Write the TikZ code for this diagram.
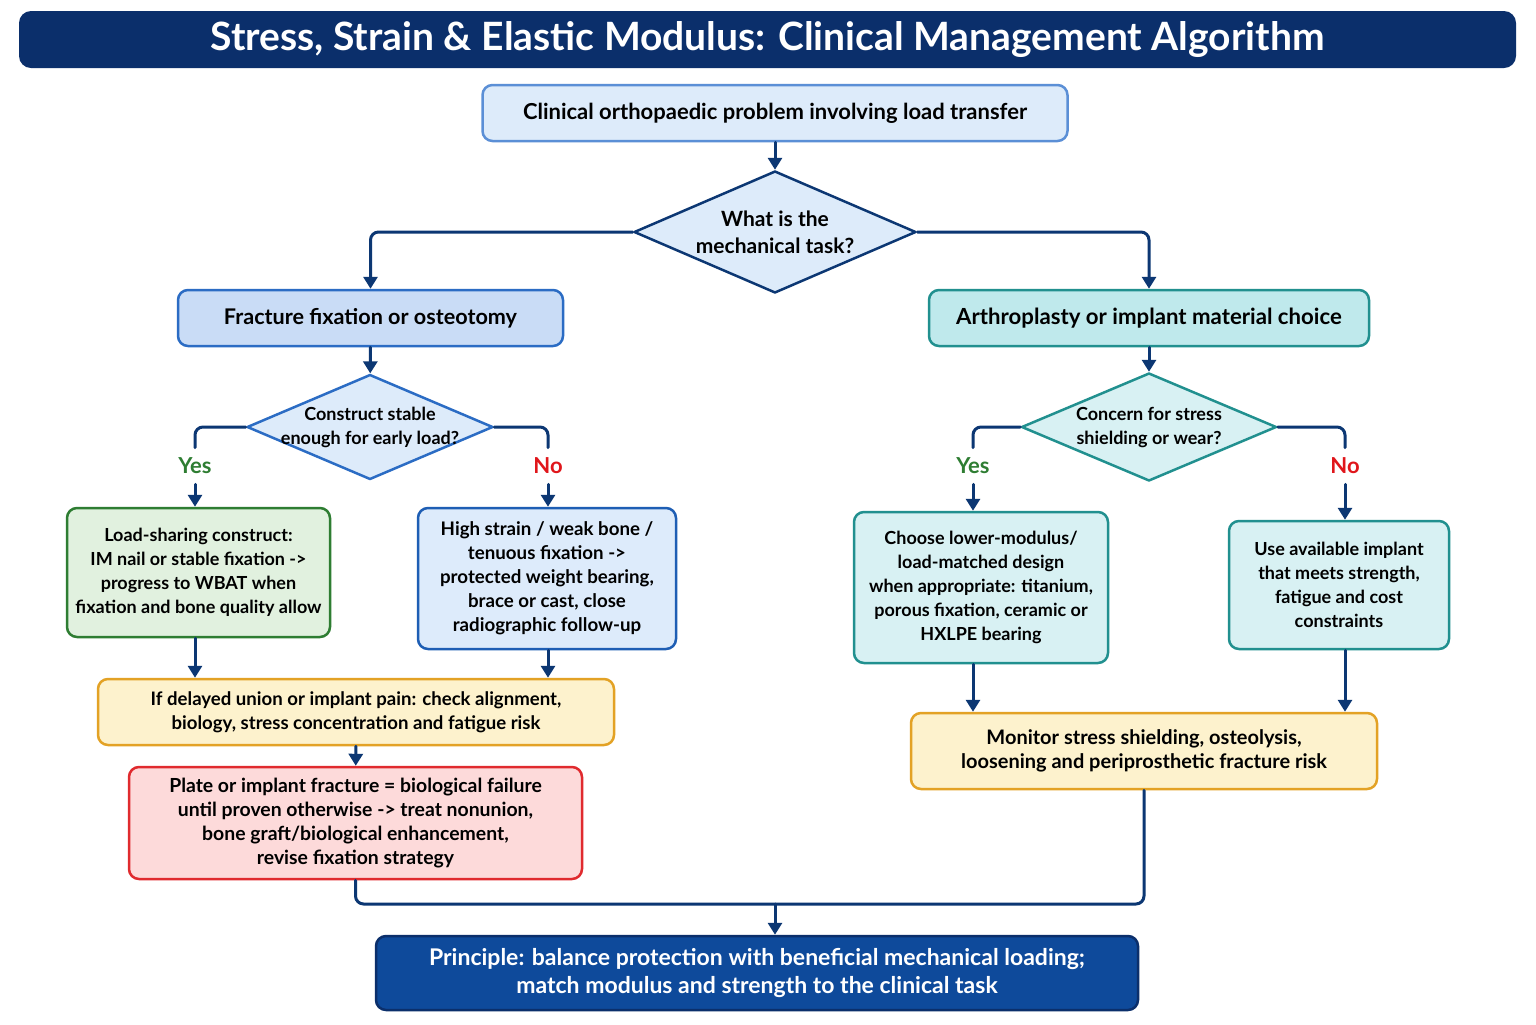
\documentclass[tikz,border=0pt]{standalone}
\usepackage{fontspec}
\setmainfont{Lato}
\usetikzlibrary{arrows.meta,shapes.geometric}
\definecolor{titlec}{HTML}{0B2F6B}
\definecolor{arrowc}{HTML}{0C3773}
\definecolor{topfill}{HTML}{DDEBFA}
\definecolor{topline}{HTML}{5B8FD6}
\definecolor{fixfill}{HTML}{C9DCF6}
\definecolor{fixline}{HTML}{2B6CC4}
\definecolor{artfill}{HTML}{BFE9EC}
\definecolor{artline}{HTML}{21908F}
\definecolor{tealfill}{HTML}{D8F1F3}
\definecolor{greenfill}{HTML}{E1F1DF}
\definecolor{greenline}{HTML}{2E7D32}
\definecolor{bluefill}{HTML}{DDEBFB}
\definecolor{blueline}{HTML}{1E5EB4}
\definecolor{yelfill}{HTML}{FDF2CD}
\definecolor{yelline}{HTML}{E3A225}
\definecolor{redfill}{HTML}{FDDADA}
\definecolor{redline}{HTML}{E02A2E}
\definecolor{prinfill}{HTML}{0E4A9B}
\definecolor{yesc}{HTML}{2E7D32}
\definecolor{noc}{HTML}{E0161B}

\begin{document}
\begin{tikzpicture}[line cap=round,line join=round,>={Triangle[length=6pt,width=7pt]},x=0.5pt,y=-0.5pt,
	box/.style={draw,rounded corners=5pt,line width=1.25pt,align=center,inner sep=2pt,font=\bfseries\fontsize{9}{12}\selectfont},
	dia/.style={draw,diamond,line width=1.25pt,align=center,inner sep=-3pt,aspect=2.33,font=\bfseries\fontsize{9}{12}\selectfont},
	conn/.style={draw=arrowc,line width=1.5pt,rounded corners=4pt},
	arr/.style={conn,->},
	yes/.style={text=yesc,font=\bfseries\fontsize{11}{12}\selectfont,inner sep=5pt},
	no/.style={yes,text=noc}]
	\useasboundingbox[fill=white] (0,0) rectangle (1536,1024);
	\node[fill=titlec,rounded corners=6pt,minimum width=748.5pt,minimum height=28.5pt,text=white,font=\bfseries\fontsize{19.5}{22}\selectfont] (title) at (767.5,39.5) {Stress, Strain \& Elastic Modulus: Clinical Management Algorithm};
	\node[box,fill=topfill,draw=topline,minimum width=292.5pt,minimum height=28pt,font=\bfseries\fontsize{11}{12}\selectfont] (prob) at (775,113) {Clinical orthopaedic problem involving load transfer};
	\node[dia,fill=topfill,draw=arrowc,minimum width=141pt,minimum height=61pt,font=\bfseries\fontsize{10.5}{13.5}\selectfont] (task) at (775,232) {What is the\\mechanical task?};
	\node[box,fill=fixfill,draw=fixline,minimum width=192.5pt,minimum height=28pt,font=\bfseries\fontsize{10.8}{12}\selectfont] (fix) at (370.5,318) {Fracture fixation or osteotomy};
	\node[box,fill=artfill,draw=artline,minimum width=220pt,minimum height=28pt,font=\bfseries\fontsize{11.1}{12}\selectfont] (arth) at (1149,318) {Arthroplasty or implant material choice};
	\node[dia,fill=topfill,draw=fixline,minimum width=123pt,minimum height=52.5pt] (stable) at (370,427) {Construct stable\\enough for early load?};
	\node[dia,fill=tealfill,draw=artline,minimum width=127.5pt,minimum height=54pt] (shield) at (1149,427) {Concern for stress\\shielding or wear?};
	\node[yes] (yesA) at (195,466) {Yes};
	\node[no] (noA) at (548,466) {No};
	\node[yes] (yesB) at (973,466) {Yes};
	\node[no] (noB) at (1345,466) {No};
	\node[box,fill=greenfill,draw=greenline,minimum width=131.5pt,minimum height=64.5pt] (share) at (198.5,572.5) {Load-sharing construct:\\IM nail or stable fixation ->\\progress to WBAT when\\fixation and bone quality allow};
	\node[box,fill=bluefill,draw=blueline,minimum width=129pt,minimum height=70.5pt,font=\bfseries\fontsize{9.35}{12}\selectfont] (protect) at (547,578.5) {High strain / weak bone /\\tenuous fixation ->\\protected weight bearing,\\brace or cast, close\\radiographic follow-up};
	\node[box,fill=tealfill,draw=artline,minimum width=127pt,minimum height=75.5pt] (lowmod) at (981,587.5) {Choose lower-modulus/\\load-matched design\\when appropriate: titanium,\\porous fixation, ceramic or\\HXLPE bearing};
	\node[box,fill=tealfill,draw=artline,minimum width=110pt,minimum height=64pt] (avail) at (1339,585) {Use available implant\\that meets strength,\\fatigue and cost\\constraints};
	\node[box,fill=yelfill,draw=yelline,minimum width=258pt,minimum height=33pt,font=\bfseries\fontsize{9.3}{12}\selectfont] (delay) at (356,712) {If delayed union or implant pain: check alignment,\\biology, stress concentration and fatigue risk};
	\node[box,fill=redfill,draw=redline,minimum width=226.5pt,minimum height=56pt,font=\bfseries\fontsize{9.7}{11.9}\selectfont] (fail) at (355.5,823) {Plate or implant fracture = biological failure\\until proven otherwise -> treat nonunion,\\bone graft/biological enhancement,\\revise fixation strategy};
	\node[box,fill=yelfill,draw=yelline,minimum width=233pt,minimum height=38pt,font=\bfseries\fontsize{10}{12}\selectfont] (monitor) at (1144,751) {Monitor stress shielding, osteolysis,\\loosening and periprosthetic fracture risk};
	\node[box,fill=prinfill,draw=titlec,text=white,minimum width=381pt,minimum height=37pt,font=\bfseries\fontsize{11.5}{14}\selectfont] (prin) at (757,973) {Principle: balance protection with beneficial mechanical loading;\\match modulus and strength to the clinical task};
	\coordinate (join) at (775,904);
	\draw[arr] (prob) -- (task);
	\draw[arr] (task.west) -| (fix.north);
	\draw[arr] (task.east) -| (arth.north);
	\draw[arr] (fix) -- (stable);
	\draw[arr] (arth) -- (shield);
	\draw[conn] (stable.west) -| (yesA.north);
	\draw[arr] (yesA.south) -- (yesA.south |- share.north);
	\draw[conn] (stable.east) -| (noA.north);
	\draw[arr] (noA.south) -- (noA.south |- protect.north);
	\draw[conn] (shield.west) -| (yesB.north);
	\draw[arr] (yesB.south) -- (yesB.south |- lowmod.north);
	\draw[conn] (shield.east) -| (noB.north);
	\draw[arr] (noB.south) -- (noB.south |- avail.north);
	\draw[arr] (yesA |- share.south) -- (yesA |- delay.north);
	\draw[arr] (noA |- protect.south) -- (noA |- delay.north);
	\draw[arr] (yesB |- lowmod.south) -- (yesB |- monitor.north);
	\draw[arr] (noB |- avail.south) -- (noB |- monitor.north);
	\draw[arr] (delay) -- (fail);
	\draw[conn] (fail.south) |- (join) -| (monitor.south);
	\draw[arr] (join) -- (join |- prin.north);
\end{tikzpicture}
\end{document}
